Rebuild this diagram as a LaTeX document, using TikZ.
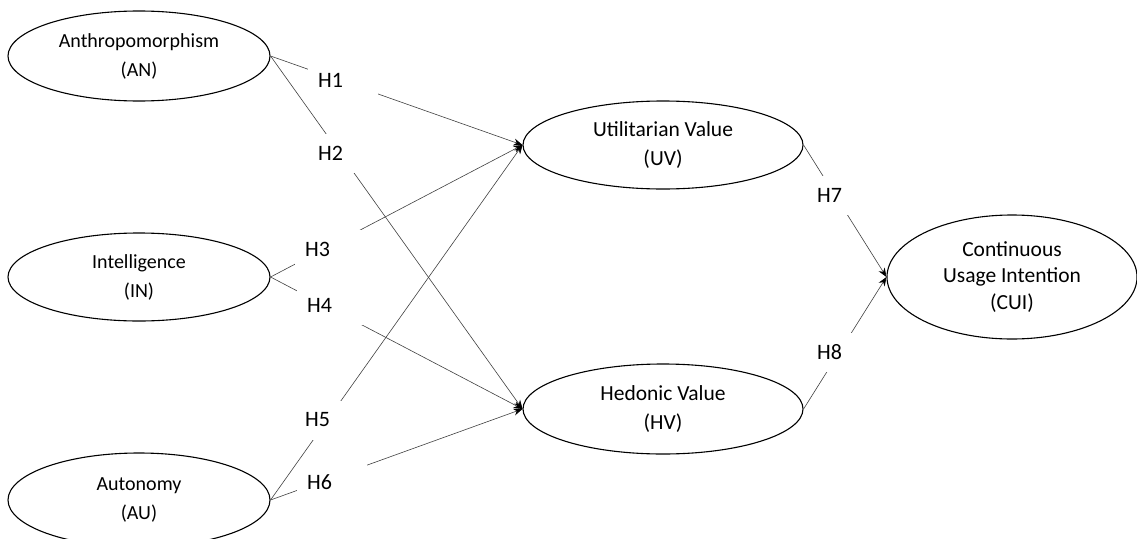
\documentclass[tikz,border=0pt]{standalone}
\usepackage{fontspec}
\setmainfont{Carlito}
\usepackage{tikz}
\usetikzlibrary{arrows.meta, positioning, shapes.geometric}

\begin{document}
\begin{tikzpicture}[
        x=1pt, y=-1pt,
        construct/.style={draw, ellipse, line width=1.1pt, inner sep=0pt, align=center, font=\fontsize{20}{29}\selectfont},
        mediator/.style={construct, font=\fontsize{21.5}{29}\selectfont},
        hyp/.style={anchor=west, rectangle, fill=white, inner ysep=0pt, inner xsep=10pt, text width=50pt, align=left, minimum height=39pt, font=\fontsize{22}{26}\selectfont},
        link/.style={draw=black!75, line width=0.6pt, -{Stealth[length=9pt, width=7pt, color=black]}},
        >=Stealth
    ]
        \useasboundingbox (0,0) rectangle (1137,538);

        % Constructs
        \node[construct, minimum width=262pt, minimum height=90pt] (anthro) at (139,56) {Anthropomorphism\\(AN)};
        \node[construct, minimum width=262pt, minimum height=88pt] (intel) at (139,277) {Intelligence\\(IN)};
        \node[construct, minimum width=262pt, minimum height=94pt] (autonomy) at (139,500) {Autonomy\\(AU)};
        \node[mediator, minimum width=280pt, minimum height=88pt] (utilitarian) at (663,145) {Utilitarian Value\\(UV)};
        \node[mediator, minimum width=280pt, minimum height=90pt] (hedonic) at (663,409) {Hedonic Value\\(HV)};
        \node[mediator, minimum width=250pt, minimum height=124pt, font=\fontsize{21.5}{26.5}\selectfont] (intention) at (1012,277) {Continuous\\Usage Intention\\(CUI)};

        % Paths
        \draw[link] (anthro.east) -- (utilitarian.west);
        \draw[link] (anthro.east) -- (hedonic.west);
        \draw[link] (intel.east) -- (utilitarian.west);
        \draw[link] (intel.east) -- (hedonic.west);
        \draw[link] (autonomy.east) -- (utilitarian.west);
        \draw[link] (autonomy.east) -- (hedonic.west);
        \draw[link] (utilitarian.east) -- (intention.west);
        \draw[link] (hedonic.east) -- (intention.west);

        % Hypotheses
        \node[hyp] (h1) at (308,80) {H1};
        \node[hyp] (h2) at (308,153) {H2};
        \node[hyp] (h3) at (295,249) {H3};
        \node[hyp] (h4) at (297,305) {H4};
        \node[hyp] (h5) at (295,420) {H5};
        \node[hyp] (h6) at (297,482) {H6};
        \node[hyp] (h7) at (807,195) {H7};
        \node[hyp] (h8) at (807,352) {H8};
    \end{tikzpicture}
\end{document}
